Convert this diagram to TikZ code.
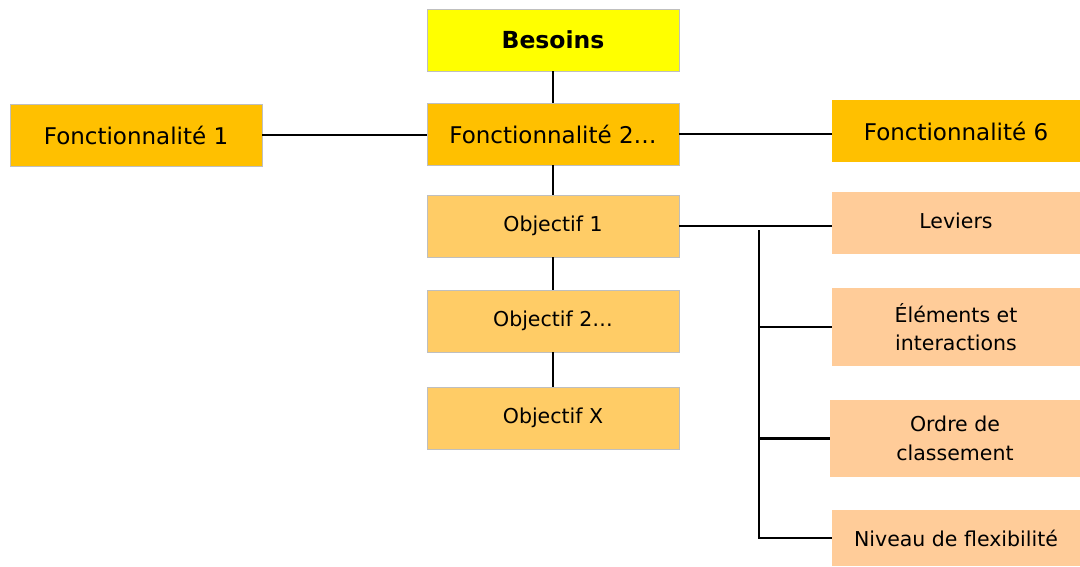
\documentclass[tikz,border=0pt]{standalone}
\usepackage{fontspec}
\setmainfont{DejaVu Sans}
\usetikzlibrary{positioning}
\definecolor{besoinjaune}{HTML}{FFFF00}
\definecolor{fonctor}{HTML}{FFC000}
\definecolor{objclair}{HTML}{FFCC66}
\definecolor{peche}{HTML}{FFCC99}
\tikzstyle{every box} = [draw=black!25, line width=0.8pt, minimum width=252pt, minimum height=62pt, inner sep=0pt, align=center]
\tikzstyle{besoin} = [every box, fill=besoinjaune, font=\fontsize{23.5}{27}\selectfont\bfseries]
\tikzstyle{fonct} = [every box, fill=fonctor, font=\fontsize{23}{27}\selectfont]
\tikzstyle{objectif} = [every box, fill=objclair, font=\fontsize{20.5}{24}\selectfont, text depth=4pt]
\tikzstyle{critere} = [every box, fill=peche, draw=none, minimum width=248pt, font=\fontsize{20.5}{28.5}\selectfont]
\tikzstyle{link} = [draw, line width=2.2pt]

\begin{document}
\begin{tikzpicture}[x=1pt, y=-1pt]
        \useasboundingbox (0,0) rectangle (1080,566);
        \node[besoin] (besoins) at (553,40) {Besoins};
        \node[fonct] (fonct2) at (553,134) {Fonctionnalité 2…};
        \node[fonct] (fonct1) at (136,135) {Fonctionnalité 1};
        \node[fonct, minimum width=248pt, draw=none] (fonct6) at (956,131) {Fonctionnalité 6};
        \node[objectif] (obj1) at (553,226) {Objectif 1};
        \node[objectif] (obj2) at (553,321) {Objectif 2…};
        \node[objectif] (objx) at (553,418) {Objectif X};
        \node[critere, text depth=4pt] (leviers) at (956,223) {Leviers};
        \node[critere, minimum height=78pt] (elements) at (956,327) {Éléments et\\interactions};
        \node[critere, minimum height=77pt, minimum width=250pt] (ordre) at (955,438.5) {Ordre de\\classement};
        \node[critere, minimum height=56pt] (niveau) at (956,538) {Niveau de flexibilité};
        \coordinate (bus) at (759,230);

        % tronc central
        \draw[link] (besoins) -- (fonct2);
        \draw[link] (fonct2) -- (obj1);
        \draw[link] (obj1) -- (obj2);
        \draw[link] (obj2) -- (objx);
        \draw[link] (fonct1.east) -- (fonct1.east -| fonct2.west);
        \draw[link] (fonct2.east) -- (fonct2.east -| fonct6.west);

        % criteres de l'objectif
        \draw[link] (obj1.east) -- (obj1.east -| leviers.west);
        \draw[link] (bus) |- (niveau.west);
        \draw[link] (bus |- elements.west) -- (elements.west);
        \draw[link] (bus |- ordre.west) -- (ordre.west);

    \end{tikzpicture}
\end{document}
